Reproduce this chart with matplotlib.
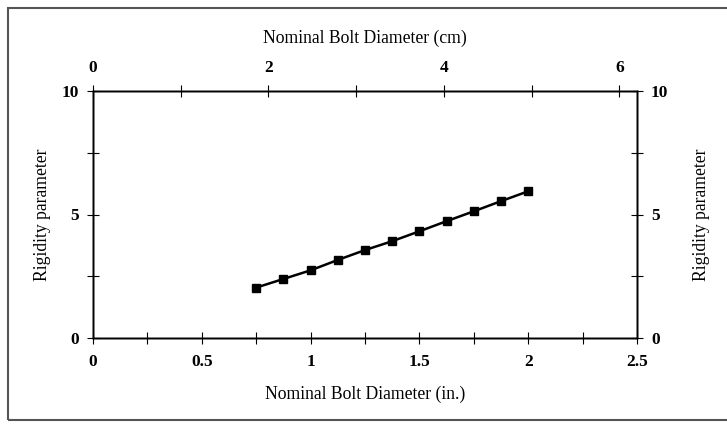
import matplotlib.pyplot as plt
from matplotlib.patches import Rectangle
import numpy as np

# data
diam_in = [0.75, 0.875, 1.0, 1.125, 1.25, 1.375, 1.5, 1.625, 1.75, 1.875, 2.0]
rigidity = [2.04, 2.39, 2.74, 3.16, 3.56, 3.92, 4.32, 4.73, 5.13, 5.54, 5.94]

x_ticks = [0, 0.5, 1, 1.5, 2, 2.5]
x_labels = ['0', '0.5', '1', '1.5', '2', '2.5']
cm_labels = ['0', '2', '4', '6']
y_ticks = [0, 5, 10]

plt.rcParams['font.family'] = ['Liberation Serif', 'DejaVu Serif']

fig = plt.figure(figsize=(7.27, 4.25), dpi=100)
ax = fig.add_axes([93 / 727, 1 - 338 / 425, 544 / 727, 247 / 425])

ax.plot(diam_in, rigidity, color='black', lw=1.8, marker='s', ms=5.5)

ax.set_xlim(0, 2.5)
ax.set_ylim(0, 10)
ax.set_xticks(x_ticks)
ax.set_xticklabels(x_labels)
ax.set_xticks(np.arange(0, 2.51, 0.25), minor=True)
ax.set_yticks(y_ticks)
ax.set_yticks([2.5, 7.5], minor=True)
ax.tick_params(which='both', direction='inout', length=8, width=0.8,
               labelsize=12.5)
ax.tick_params(axis='x', pad=7.5)
ax.tick_params(axis='y', pad=6)
ax.set_xlabel('Nominal Bolt Diameter (in.)', fontsize=12.7, labelpad=11)
ax.set_ylabel('Rigidity parameter', fontsize=12.7, labelpad=8)
for lab in ax.get_xticklabels() + ax.get_yticklabels():
    lab.set_fontweight('bold')

# secondary axes (cm on top, same rigidity on right)
top = ax.twiny()
top.set_xlim(0, 6.2)
top.set_xticks([0, 2, 4, 6])
top.set_xticklabels(cm_labels)
top.set_xticks(range(0, 7), minor=True)
top.tick_params(which='both', direction='inout', length=8, width=0.8,
                labelsize=12.5, pad=6.5)
top.set_xlabel('Nominal Bolt Diameter (cm)', fontsize=12.7, labelpad=12.5)

right = ax.twinx()
right.set_ylim(0, 10)
right.set_yticks(y_ticks)
right.set_yticks([2.5, 7.5], minor=True)
right.tick_params(which='both', direction='inout', length=8, width=0.8,
                  labelsize=12.5, pad=6)
right.set_ylabel('Rigidity parameter', fontsize=12.7, labelpad=17.5)

for a in (top, right):
    for lab in a.get_xticklabels() + a.get_yticklabels():
        lab.set_fontweight('bold')
    for s in a.spines.values():
        s.set_linewidth(1.0)
for s in ax.spines.values():
    s.set_linewidth(1.0)

# frame round the whole figure
fig.patches.append(Rectangle((8 / 727, 5 / 425), 1.5, 1 - 13 / 425,
                             transform=fig.transFigure, fill=False,
                             edgecolor='#555555', lw=1.5))

fig.savefig('out.png', dpi=100)
